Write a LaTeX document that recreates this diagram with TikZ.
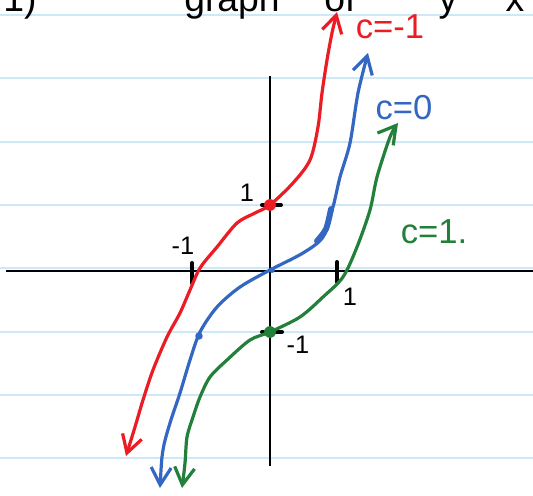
\documentclass[tikz,border=0pt]{standalone}
\usepackage{fontspec}
\setmainfont{Liberation Sans}
\usetikzlibrary{arrows.meta}
\definecolor{ruleblue}{HTML}{CDE8F7}
\definecolor{cneg}{HTML}{EC1C24}
\definecolor{czero}{HTML}{3467C2}
\definecolor{cpos}{HTML}{22803A}

\begin{document}
\begin{tikzpicture}[x=0.75pt, y=-0.75pt,
  >={Straight Barb[length=13pt, width=15pt]},
  curve/.style={line width=2.4pt, line cap=round, line join=round, <->},
  tick/.style={line width=3pt, line cap=round},
  ticklbl/.style={font=\fontsize{19}{19}\selectfont},
  clbl/.style={font=\fontsize{26}{26}\selectfont},
  title/.style={anchor=base, font=\fontsize{28}{28}\selectfont}]
  \useasboundingbox (0,0) rectangle (533,496);
  \clip (0,0) rectangle (533,496);
  \fill[white] (0,0) rectangle (533,496);

  % ruled paper
  \foreach \ry in {15, 78.3, 141.7, 205, 268.3, 331.7, 395, 458.3}
    \draw[ruleblue, line width=1.5pt] (0,\ry) -- (533,\ry);

  % cut-off heading
  \node[title] (hnum) at (20,12) {1)};
  \node[title] (hgraph) at (232,12) {graph};
  \node[title] (hof) at (340,12) {of};
  \node[title] (hy) at (448,12) {y};
  \node[title] (hx) at (515,12) {x};

  % axes
  \draw[line width=1.5pt] (6,271) -- (533,271);
  \draw[line width=1.5pt] (270,76) -- (270,466);
  \draw[tick] (192,263) -- (192,283);
  \draw[tick] (337,262) -- (337,282);
  \draw[tick] (262,205) -- (281,205);
  \draw[tick] (262,332) -- (282,332);

  \node[ticklbl] (xm1) at (183,246) {-1};
  \node[ticklbl] (xp1) at (350,297) {1};
  \node[ticklbl] (yp1) at (247,193) {1};
  \node[ticklbl] (ym1) at (298,345) {-1};

  % c = -1
  \draw[curve, cneg] plot[smooth] coordinates {(126,456) (135,427) (143,400)
    (153,370) (167,337) (180,313) (190,290) (200,268) (217,247) (237,223)
    (255,213) (270,205) (293,183) (310,160) (318,127) (322,93) (327,60)
    (332,33) (337,12)};
  % c = 0
  \draw[curve, czero] plot[smooth] coordinates {(160,488) (163,450) (170,423)
    (180,393) (190,360) (200,332) (217,307) (240,287) (270,270) (303,253)
    (323,237) (333,207) (340,177) (350,143) (358,93) (368,53)};
  \draw[czero, line width=4.4pt, line cap=round] plot[smooth] coordinates {(317,241) (326,229) (331,209)};
  % c = 1
  \draw[curve, cpos] plot[smooth] coordinates {(182,488) (185,463) (187,437)
    (193,417) (200,397) (210,377) (227,360) (250,340) (270,332) (300,317)
    (323,297) (343,277) (357,247) (370,210) (377,177) (390,137) (398,123)};

  \fill[cneg] (270,205) circle (4.4pt);
  \fill[cpos] (270,332) circle (4.4pt);
  \fill[czero] (199,336) circle (2.8pt);
  \fill[czero] (272,270) circle (2.2pt);

  \node[clbl, text=cneg] (lneg) at (390,27) {c=-1};
  \node[clbl, text=czero] (lzero) at (404,108) {c=0};
  \node[clbl, text=cpos] (lpos) at (434,232) {c=1.};
\end{tikzpicture}
\end{document}
